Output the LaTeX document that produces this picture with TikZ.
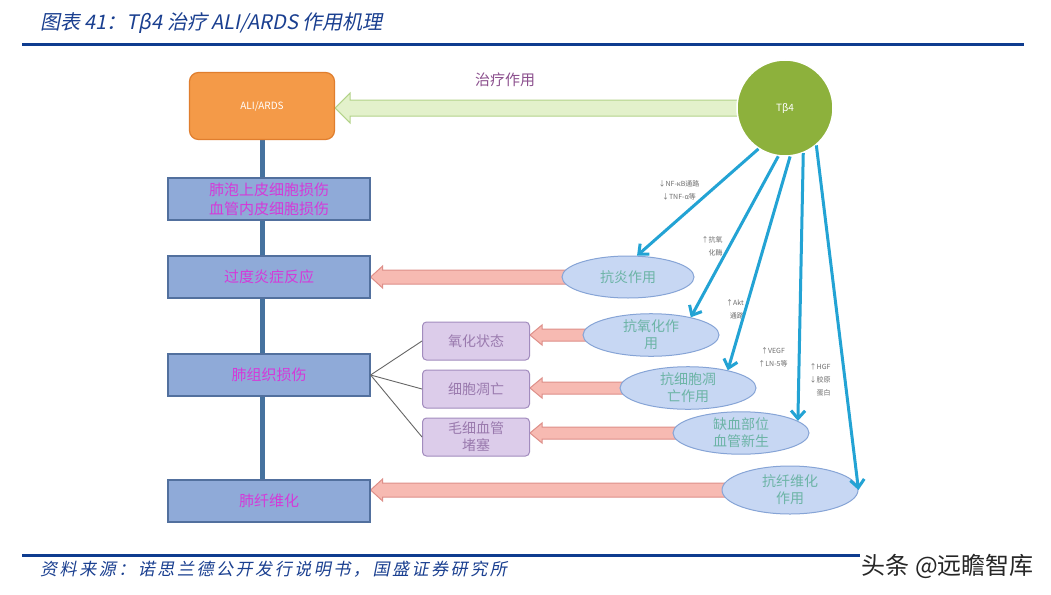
\documentclass[tikz,border=0pt]{standalone}
\usepackage{fontspec}
\newfontfamily\cjk{Noto Sans CJK SC}
\newfontfamily\cjkit[FakeSlant=0.2]{Noto Sans CJK SC}
\newfontfamily\cjkitsp[FakeSlant=0.2,LetterSpace=15]{Noto Sans CJK SC}
\usetikzlibrary{shapes.geometric,arrows.meta,calc}
\pgfdeclarelayer{bg}
\pgfdeclarelayer{paper}
\pgfsetlayers{paper,bg,main}
\definecolor{titleblue}{HTML}{1A3F90}
\definecolor{rulecol}{HTML}{0E3C8F}
\definecolor{alifill}{HTML}{F49A48}
\definecolor{alibd}{HTML}{E07E2E}
\definecolor{tbfill}{HTML}{8DB13C}
\definecolor{grfill}{HTML}{E3F1CB}
\definecolor{grbd}{HTML}{B3D38A}
\definecolor{boxfill}{HTML}{8FAAD8}
\definecolor{boxbd}{HTML}{52709E}
\definecolor{boxtxt}{HTML}{D43AD8}
\definecolor{spinecol}{HTML}{46729F}
\definecolor{pfill}{HTML}{DCCCEA}
\definecolor{pbd}{HTML}{A28CBE}
\definecolor{ptxt}{HTML}{9A7AAE}
\definecolor{efill}{HTML}{C7D7F3}
\definecolor{ebd}{HTML}{86A4D6}
\definecolor{etxt}{HTML}{6CB4A6}
\definecolor{pkfill}{HTML}{F7BAB2}
\definecolor{pkbd}{HTML}{DE8F89}
\definecolor{cyanarr}{HTML}{23A3D4}
\definecolor{labgray}{HTML}{6E6E6E}
\definecolor{healabel}{HTML}{8C508E}
\newcommand\fatarrow[6]{\path[#1] let \p1=(#2), \p2=(#3) in (\x1,\y1+#4) -- (\x2+#6,\y1+#4) -- (\x2+#6,\y1+#5) -- (\x2,\y1) -- (\x2+#6,\y1-#5) -- (\x2+#6,\y1-#4) -- (\x1,\y1-#4) -- cycle;}
\tikzset{
  every node/.style={font=\cjk},
  alibox/.style={draw=alibd, fill=alifill, rounded corners=9pt, minimum width=145pt, minimum height=67pt, text=white, line width=1.2pt, font=\cjk\fontsize{10}{12}\selectfont},
  tbcirc/.style={circle, draw=white, line width=1.5pt, fill=tbfill, minimum size=96pt, text=white, font=\cjk\fontsize{10}{12}\selectfont},
  bluebox/.style={draw=boxbd, fill=boxfill, line width=1.2pt, minimum width=202pt, minimum height=42pt, text=boxtxt, align=center, inner sep=0pt, font=\cjk\fontsize{15}{19}\selectfont},
  purplebox/.style={draw=pbd, fill=pfill, rounded corners=4pt, line width=1pt, minimum width=107pt, minimum height=38pt, text=ptxt, align=center, inner sep=0pt, font=\cjk\fontsize{14}{17}\selectfont},
  effect/.style={ellipse, draw=ebd, fill=efill, line width=1pt, inner sep=0pt, text=etxt, align=center, font=\cjk\fontsize{14}{17}\selectfont},
  pinkarr/.style={draw=pkbd, fill=pkfill, line width=1pt},
  greenarr/.style={draw=grbd, fill=grfill, line width=1pt},
  spine/.style={draw=spinecol, line width=5pt},
  branch/.style={draw=gray!80!black, line width=0.9pt},
  cyarrow/.style={draw=cyanarr, line width=3pt, -{Straight Barb[length=8pt,width=14pt,line width=3pt]}},
  smalllab/.style={text=labgray, inner sep=0pt, font=\cjk\fontsize{7}{13}\selectfont},
  rulestyle/.style={draw=rulecol, line width=3pt}
}
\begin{document}
\begin{tikzpicture}[x=1pt,y=-1pt]
\begin{pgfonlayer}{paper}
\fill[white] (0,0) rectangle (1051,594);
\end{pgfonlayer}
\useasboundingbox (0,0) rectangle (1051,594);
% header and footer
\node[anchor=west, text=titleblue, inner sep=0pt, font=\cjkit\fontsize{20}{22}\selectfont] (title) at (40,23) {图表 41：Tβ4 治疗 ALI/ARDS 作用机理};
\coordinate (rtl) at (22,45); \coordinate (rtr) at (1024,45);
\draw[rulestyle] (rtl) -- (rtr);
\coordinate (rbl) at (22,555); \coordinate (rbr) at (1024,555);
\draw[rulestyle] (rbl) -- (rbr);
\node[anchor=west, text=titleblue, inner sep=0pt, font=\cjkitsp\fontsize{17}{19}\selectfont] (src) at (40,569) {资料来源：诺思兰德公开发行说明书，国盛证券研究所};
\node[anchor=east, fill=white, text=black!85, inner sep=2pt, font=\cjk\fontsize{24}{26}\selectfont] (wm) at (1036,566) {头条 @远瞻智库};

% main nodes
\node[alibox] (ali) at (262,106) {ALI/ARDS};
\node[tbcirc] (tb) at (785,108) {Tβ4};
\node[text=healabel, font=\cjk\fontsize{15}{17}\selectfont] (heal) at (505,80) {治疗作用};

\node[bluebox] (b1) at (269,199) {肺泡上皮细胞损伤\\血管内皮细胞损伤};
\node[bluebox] (b2) at (269,277) {过度炎症反应};
\node[bluebox] (b3) at (269,375) {肺组织损伤};
\node[bluebox] (b4) at (269,501) {肺纤维化};

\node[purplebox] (p1) at (476,341) {氧化状态};
\node[purplebox] (p2) at (476,389) {细胞凋亡};
\node[purplebox] (p3) at (476,437) {毛细血管\\堵塞};

\node[effect, minimum width=132pt, minimum height=42pt] (e1) at (628,277) {抗炎作用};
\node[effect, minimum width=136pt, minimum height=40pt] (e2) at (651,335) {抗氧化作\\用};
\node[effect, minimum width=136pt, minimum height=40pt] (e3) at (688,388) {抗细胞凋\\亡作用};
\node[effect, minimum width=136pt, minimum height=42pt] (e4) at (741,433) {缺血部位\\血管新生};
\node[effect, minimum width=136pt, minimum height=48pt] (e5) at (790,490) {抗纤维化\\作用};

% small labels
\node[smalllab, align=center] (l1) at (679,190) {↓NF-κB通路\\↓TNF-α等};
\node[smalllab, align=right] (l2) at (712,246) {↑抗氧\\化酶};
\node[smalllab, align=right] (l3) at (735,309) {↑Akt\\通路};
\node[smalllab, align=center] (l4) at (773,357) {↑VEGF\\↑LN-5等};
\node[smalllab, align=right] (l5) at (820,380) {↑HGF\\↓胶原\\蛋白};

\begin{pgfonlayer}{bg}
  \draw[spine] (ali.south) -- (ali.south |- b4.north);
  \fatarrow{greenarr}{tb.center}{ali.east}{8pt}{15pt}{15pt}
  \fatarrow{pinkarr}{e1.center}{b2.east}{7pt}{11pt}{12pt}
  \fatarrow{pinkarr}{e2.center}{p1.east}{6pt}{10pt}{12pt}
  \fatarrow{pinkarr}{e3.center}{p2.east}{6pt}{10pt}{12pt}
  \fatarrow{pinkarr}{e4.center}{p3.east}{6pt}{10pt}{12pt}
  \fatarrow{pinkarr}{e5.center}{b4.east}{7pt}{11pt}{12pt}
\end{pgfonlayer}

% branches
\draw[branch] (b3.east) -- (p1.west);
\draw[branch] (b3.east) -- (p2.west);
\draw[branch] (b3.east) -- (p3.west);

% cyan arrows
\draw[cyarrow] (tb.237) -- (e1.67);
\draw[cyarrow] (tb.262) -- (e2.24);
\draw[cyarrow] (tb.276) -- (e3.24);
\draw[cyarrow] (tb.292) -- (e4.12);
\draw[cyarrow] (tb.310) -- (e5.east);
\end{tikzpicture}
\end{document}
